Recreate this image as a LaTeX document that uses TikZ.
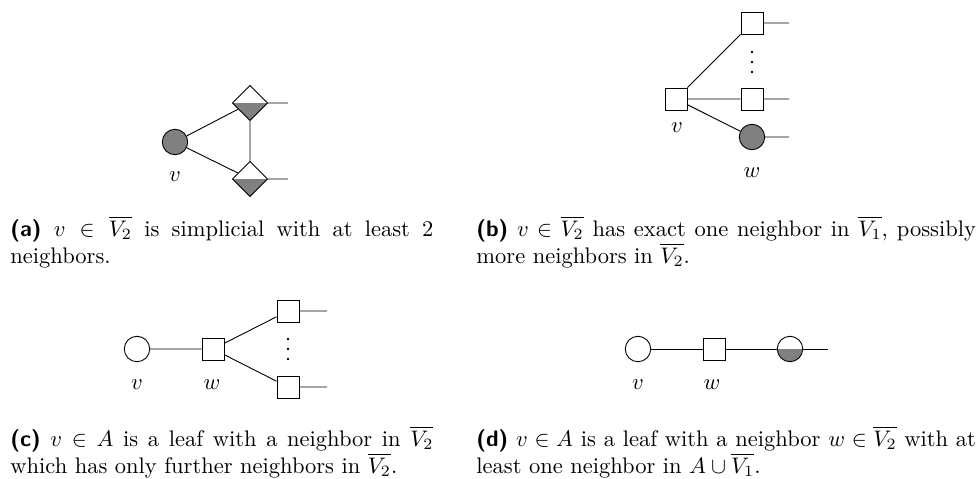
\documentclass[tikz,border=0pt]{standalone}
\usetikzlibrary{shapes.geometric}
\begin{document}
\begin{tikzpicture}[x=0.4444pt,y=-0.4444pt,
  every node/.style={inner sep=0pt},
  vcirc/.style={circle,draw,minimum size=11.3pt},
  vfull/.style={vcirc,fill=gray},
  vsq/.style={rectangle,draw,minimum size=9.8pt},
  halffill/.style={path picture={\fill[gray] (path picture bounding box.west) rectangle (path picture bounding box.south east);}},
  vhalf/.style={vcirc,halffill},
  vdia/.style={diamond,draw,aspect=1,minimum size=15.8pt,halffill},
  lab/.style={font=\normalsize},
  dotmark/.style={circle,fill=black,inner sep=0pt,minimum size=1.2pt},
  captext/.style={anchor=north west,align=justify,font={\tolerance=10000\hyphenpenalty=10000\exhyphenpenalty=10000}}]
\useasboundingbox (0,0) rectangle (978,478);
% (a)
\node[vfull] (av) at (175,142) {};
\node[vdia] (at) at (250,103) {};
\node[vdia] (ab) at (250,179) {};
\coordinate (ato) at (288,103);
\coordinate (abo) at (288,179);
\draw (av) -- (at) (av) -- (ab) (at) -- (ab) (at.east) -- (ato) (ab.east) -- (abo);
\node[lab] (avl) at (175,177) {$v$};
% (b)
\node[vsq] (bv) at (676,99) {};
\node[vsq] (bt) at (752,23) {};
\node[vsq] (bm) at (752,99) {};
\node[vfull] (bw) at (752,137) {};
\coordinate (bto) at (789,23);
\coordinate (bmo) at (789,99);
\coordinate (bwo) at (789,137);
\draw (bv) -- (bt) (bv) -- (bm) (bv) -- (bw) (bt.east) -- (bto) (bm.east) -- (bmo) (bw.east) -- (bwo);
\node[dotmark] (bd1) at (752,52) {};
\node[dotmark] (bd2) at (752,62) {};
\node[dotmark] (bd3) at (752,72) {};
\node[lab] (bvl) at (677,128) {$v$};
\node[lab] (bwl) at (752,173) {$w$};
% (c)
\node[vcirc] (cv) at (137,349) {};
\node[vsq] (cw) at (213,349) {};
\node[vsq] (ct) at (288,311) {};
\node[vsq] (cb) at (288,387) {};
\coordinate (cto) at (327,311);
\coordinate (cbo) at (327,387);
\draw (cv) -- (cw) (cw) -- (ct) (cw) -- (cb) (ct.east) -- (cto) (cb.east) -- (cbo);
\node[dotmark] (cd1) at (288,339) {};
\node[dotmark] (cd2) at (288,349) {};
\node[dotmark] (cd3) at (288,359) {};
\node[lab] (cvl) at (137,385) {$v$};
\node[lab] (cwl) at (212,385) {$w$};
% (d)
\node[vcirc] (dv) at (638,349) {};
\node[vsq] (dw) at (714,349) {};
\node[vhalf] (dx) at (790,349) {};
\coordinate (dxo) at (828,349);
\draw (dv) -- (dw) (dw) -- (dx) (dx.east) -- (dxo);
\node[lab] (dvl) at (638,385) {$v$};
\node[lab] (dwl) at (712,385) {$w$};
% captions
\node[captext,text width=188pt] (capa) at (10,216) {\textsf{\textbf{(a)}} $v\in\overline{V_2}$ is simplicial with at least 2 neighbors.};
\node[captext,text width=222pt] (capb) at (476,216) {\textsf{\textbf{(b)}} $v\in\overline{V_2}$ has exact one neighbor in $\overline{V_1}$, possibly more neighbors in $\overline{V_2}$.};
\node[captext,text width=188pt] (capc) at (10,426) {\textsf{\textbf{(c)}} $v\in A$ is a leaf with a neighbor in $\overline{V_2}$ which has only further neighbors in $\overline{V_2}$.};
\node[captext,text width=222pt] (capd) at (476,426) {\textsf{\textbf{(d)}} $v\in A$ is a leaf with a neighbor $w\in\overline{V_2}$ with at least one neighbor in $A\cup\overline{V_1}$.};
\end{tikzpicture}
\end{document}
